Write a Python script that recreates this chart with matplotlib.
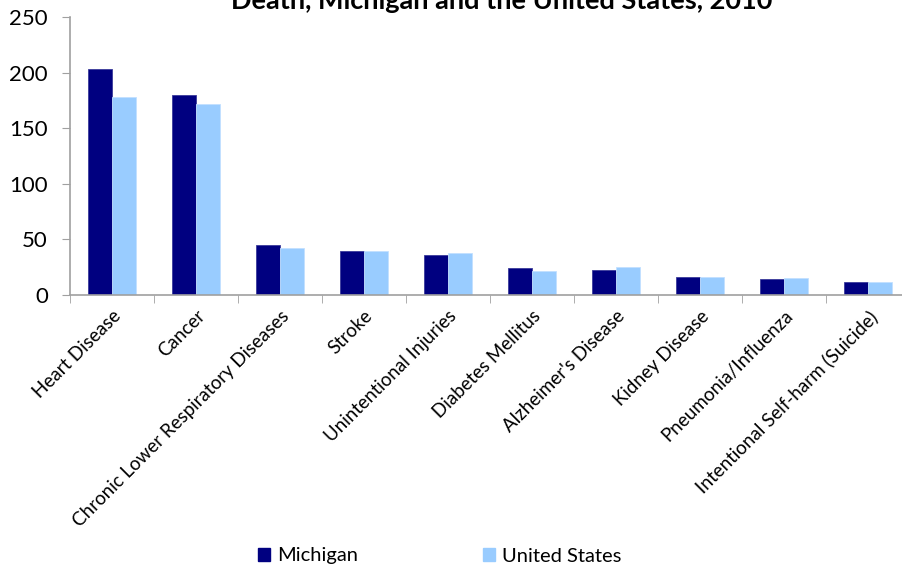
import numpy as np
import matplotlib
matplotlib.use('Agg')
import matplotlib.pyplot as plt
from matplotlib.patches import Patch

# age-adjusted death rates per 100,000
causes = ['Heart Disease', 'Cancer', 'Chronic Lower Respiratory Diseases', 'Stroke',
          'Unintentional Injuries', 'Diabetes Mellitus', "Alzheimer's Disease",
          'Kidney Disease', 'Pneumonia/Influenza', 'Intentional Self-harm (Suicide)']
michigan = [203, 180, 44.5, 39.4, 35.5, 23.8, 22.0, 15.7, 13.9, 11.7]
united_states = [178, 172, 42.4, 39.4, 37.3, 21.1, 25.0, 15.7, 14.8, 11.7]
series_names = ['Michigan', 'United States']
yticks = [0, 50, 100, 150, 200, 250]

plt.rcParams['font.family'] = ['Lato', 'DejaVu Sans']

W, H = 903, 570
fig = plt.figure(figsize=(W / 100, H / 100), dpi=100)
ax = fig.add_axes([70 / W, (H - 294.7) / H, 840 / W, (294.7 - 17.3) / H])

x = np.arange(len(causes))
bw = 0.286
ax.bar(x - bw / 2, michigan, bw, color='#000080', edgecolor='#3a3a9a', linewidth=0.6)
ax.bar(x + bw / 2, united_states, bw, color='#99ccff', edgecolor='#c2e0ff', linewidth=0.6)

ax.set_xlim(-0.5, len(causes) - 0.5)
ax.set_ylim(0, 250)
ax.set_yticks(yticks)
ax.tick_params(axis='y', labelsize=16, length=6, color='#a0a0a0', pad=10)

ax.set_xticks(x)
ax.set_xticklabels(causes, rotation=45, ha='right', rotation_mode='anchor', fontsize=13.5)
ax.tick_params(axis='x', length=0, pad=9)
ax.set_xticks(np.arange(len(causes) + 1) - 0.5, minor=True)
ax.tick_params(axis='x', which='minor', length=6, color='#a0a0a0')

for s in ['top', 'right']:
    ax.spines[s].set_visible(False)
for s in ['left', 'bottom']:
    ax.spines[s].set_color('#a0a0a0')
    ax.spines[s].set_linewidth(1.2)

# the first line of the title is cropped away in the original image
fig.text(502 / W, 1 - 9 / H, 'Death, Michigan and the United States, 2010',
         ha='center', va='baseline', fontsize=19.5, fontweight='bold')

handles = [Patch(color='#000080'), Patch(color='#99ccff')]
fig.legend(handles, series_names, loc='center', bbox_to_anchor=(440 / W, 1 - 556 / H),
           ncol=2, frameon=False, fontsize=14.5, handlelength=0.6, handleheight=0.6,
           handletextpad=0.35, columnspacing=6.2)

fig.savefig('out.png', dpi=100)
